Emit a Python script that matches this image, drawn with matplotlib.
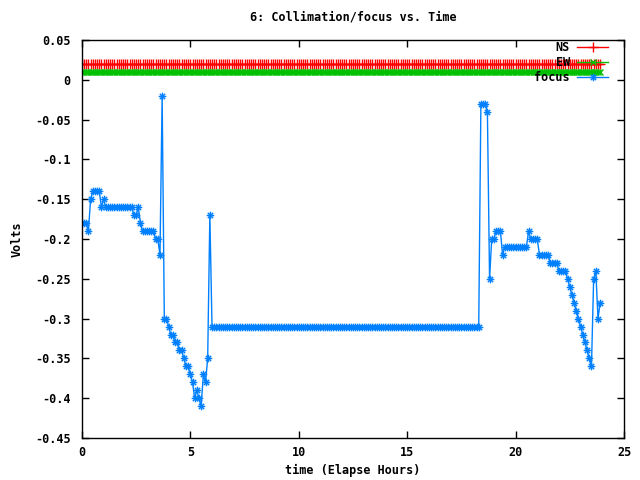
import numpy as np
import matplotlib
matplotlib.use('Agg')
import matplotlib.pyplot as plt
from matplotlib.path import Path
from matplotlib.ticker import FuncFormatter, MultipleLocator

# sample times, one reading every 6 minutes
hours = np.round(np.arange(0, 24, 0.1), 1)

# NS and EW sit flat the whole run
ns = [0.02] * len(hours)
ew = [0.01] * len(hours)

# focus voltage, one row per hour (10 readings each)
focus = [
    -0.18, -0.18, -0.18, -0.19, -0.15, -0.14, -0.14, -0.14, -0.14, -0.16,  # 0
    -0.15, -0.16, -0.16, -0.16, -0.16, -0.16, -0.16, -0.16, -0.16, -0.16,  # 1
    -0.16, -0.16, -0.16, -0.16, -0.17, -0.17, -0.16, -0.18, -0.19, -0.19,  # 2
    -0.19, -0.19, -0.19, -0.19, -0.20, -0.20, -0.22, -0.02, -0.30, -0.30,  # 3
    -0.31, -0.32, -0.32, -0.33, -0.33, -0.34, -0.34, -0.35, -0.36, -0.36,  # 4
    -0.37, -0.38, -0.40, -0.39, -0.40, -0.41, -0.37, -0.38, -0.35, -0.17,  # 5
    -0.31, -0.31, -0.31, -0.31, -0.31, -0.31, -0.31, -0.31, -0.31, -0.31,  # 6
    -0.31, -0.31, -0.31, -0.31, -0.31, -0.31, -0.31, -0.31, -0.31, -0.31,  # 7
    -0.31, -0.31, -0.31, -0.31, -0.31, -0.31, -0.31, -0.31, -0.31, -0.31,  # 8
    -0.31, -0.31, -0.31, -0.31, -0.31, -0.31, -0.31, -0.31, -0.31, -0.31,  # 9
    -0.31, -0.31, -0.31, -0.31, -0.31, -0.31, -0.31, -0.31, -0.31, -0.31,  # 10
    -0.31, -0.31, -0.31, -0.31, -0.31, -0.31, -0.31, -0.31, -0.31, -0.31,  # 11
    -0.31, -0.31, -0.31, -0.31, -0.31, -0.31, -0.31, -0.31, -0.31, -0.31,  # 12
    -0.31, -0.31, -0.31, -0.31, -0.31, -0.31, -0.31, -0.31, -0.31, -0.31,  # 13
    -0.31, -0.31, -0.31, -0.31, -0.31, -0.31, -0.31, -0.31, -0.31, -0.31,  # 14
    -0.31, -0.31, -0.31, -0.31, -0.31, -0.31, -0.31, -0.31, -0.31, -0.31,  # 15
    -0.31, -0.31, -0.31, -0.31, -0.31, -0.31, -0.31, -0.31, -0.31, -0.31,  # 16
    -0.31, -0.31, -0.31, -0.31, -0.31, -0.31, -0.31, -0.31, -0.31, -0.31,  # 17
    -0.31, -0.31, -0.31, -0.31, -0.03, -0.03, -0.03, -0.04, -0.25, -0.20,  # 18
    -0.20, -0.19, -0.19, -0.19, -0.22, -0.21, -0.21, -0.21, -0.21, -0.21,  # 19
    -0.21, -0.21, -0.21, -0.21, -0.21, -0.21, -0.19, -0.20, -0.20, -0.20,  # 20
    -0.20, -0.22, -0.22, -0.22, -0.22, -0.22, -0.23, -0.23, -0.23, -0.23,  # 21
    -0.24, -0.24, -0.24, -0.24, -0.25, -0.26, -0.27, -0.28, -0.29, -0.30,  # 22
    -0.31, -0.32, -0.33, -0.34, -0.35, -0.36, -0.25, -0.24, -0.30, -0.28,  # 23
]

# gnuplot style asterisk: a plus and an x on top of each other
star = Path([(-1, 0), (1, 0), (0, -1), (0, 1),
             (-0.7, -0.7), (0.7, 0.7), (-0.7, 0.7), (0.7, -0.7)],
            [Path.MOVETO, Path.LINETO] * 4)

font = {'family': 'DejaVu Sans Mono', 'size': 8.5, 'weight': 'bold'}
plt.rcParams['font.family'] = 'DejaVu Sans Mono'
plt.rcParams['font.size'] = 8.5
plt.rcParams['font.weight'] = 'bold'

fig = plt.figure(figsize=(6.4, 4.8), dpi=100)
ax = fig.add_axes([0.128, 0.0875, 0.847, 0.829])

ax.plot(hours, ns, color='#ff0000', lw=1, marker='+', ms=7, mew=1, label='NS')
ax.plot(hours, ew, color='#00c000', lw=1, marker='x', ms=5, mew=1, label='EW')
ax.plot(hours, focus, color='#0080ff', lw=1, marker=star, ms=5.5, mew=1,
        mfc='none', label='focus')

ax.set_xlim(0, 25)
ax.set_ylim(-0.45, 0.05)
ax.xaxis.set_major_locator(MultipleLocator(5))
ax.yaxis.set_major_locator(MultipleLocator(0.05))
ax.yaxis.set_major_formatter(FuncFormatter(lambda v, p: '%g' % round(v, 2)))
ax.tick_params(direction='in', length=5, width=1, top=True, right=True,
               pad=8, labelsize=8.5)
ax.tick_params(axis='x', pad=6)
for s in ax.spines.values():
    s.set_linewidth(1)

ax.set_title('6: Collimation/focus vs. Time', fontdict=font, pad=14)
ax.set_xlabel('time (Elapse Hours)', fontdict=font, labelpad=3)
ax.set_ylabel('Volts', fontdict=font, labelpad=8)

ax.legend(loc='upper right', bbox_to_anchor=(0.979, 1.009), frameon=False,
          markerfirst=False, handlelength=2.6, handletextpad=0.6,
          labelspacing=0.15, borderaxespad=0, fontsize=8.5)

fig.savefig('out.png', dpi=100)
